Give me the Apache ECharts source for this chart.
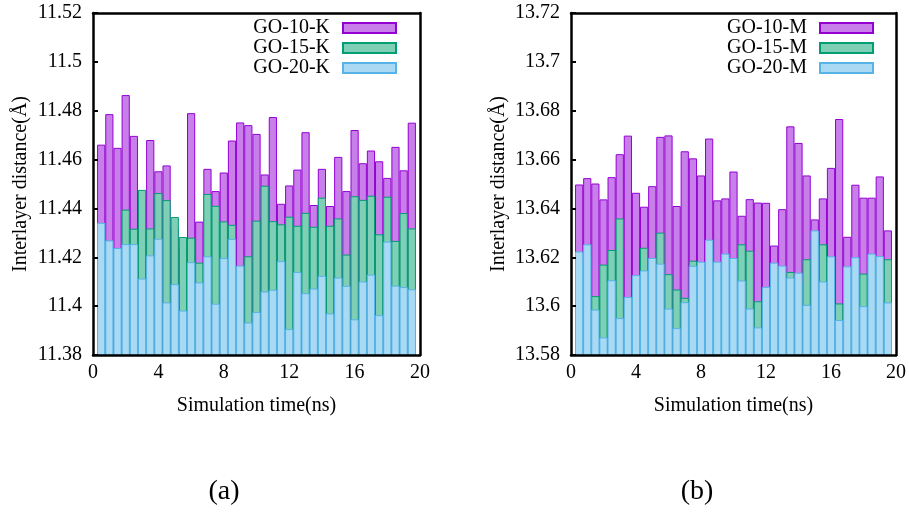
<!DOCTYPE html>
<html>
<head>
<meta charset="utf-8">
<script src="https://cdn.jsdelivr.net/npm/echarts@6/dist/echarts.min.js"></script>
<style>html,body{margin:0;padding:0;background:#fff;}#c{width:909px;height:516px;}</style>
</head>
<body>
<div id="c"></div>
<script>
// Simulation time (ns) of each bar
const times = [0.5,1.0,1.5,2.0,2.5,3.0,3.5,4.0,4.5,5.0,5.5,6.0,6.5,7.0,7.5,8.0,8.5,9.0,9.5,10.0,
  10.5,11.0,11.5,12.0,12.5,13.0,13.5,14.0,14.5,15.0,15.5,16.0,16.5,17.0,17.5,18.0,18.5,19.0,19.5];

// Panel (a)
const go10K = [11.4661,11.4786,11.4648,11.4864,11.4697,11.4440,11.4680,11.4552,11.4576,11.4320,
  11.4240,11.4790,11.4346,11.4562,11.4471,11.4547,11.4678,11.4752,11.4741,11.4705,
  11.4539,11.4774,11.4419,11.4494,11.4559,11.4712,11.4414,11.4562,11.4410,11.4611,
  11.4471,11.4721,11.4585,11.4637,11.4593,11.4525,11.4652,11.4556,11.4751];
const go15K = [11.4300,11.4220,11.4200,11.4395,11.4317,11.4476,11.4318,11.4463,11.4434,11.4365,
  11.4283,11.4280,11.4178,11.4459,11.4411,11.4347,11.4333,11.4120,11.4204,11.4350,
  11.4493,11.4348,11.4335,11.4366,11.4329,11.4382,11.4325,11.4444,11.4329,11.4359,
  11.4211,11.4450,11.4435,11.4452,11.4294,11.4448,11.4267,11.4381,11.4318];
const go20K = [11.4341,11.4269,11.4238,11.4254,11.4254,11.4113,11.4208,11.4276,11.4015,11.4090,
  11.3982,11.4180,11.4097,11.4204,11.4010,11.4197,11.4275,11.4166,11.3933,11.3976,
  11.4060,11.4067,11.4184,11.3906,11.4140,11.4053,11.4072,11.4124,11.3970,11.4117,
  11.4083,11.3946,11.4101,11.4129,11.3963,11.4264,11.4084,11.4078,11.4069];

// Panel (b)
const go10M = [13.6498,13.6524,13.6502,13.6437,13.6528,13.6622,13.6698,13.6464,13.6407,13.6491,
  13.6693,13.6699,13.6410,13.6634,13.6605,13.6535,13.6686,13.6433,13.6441,13.6551,
  13.6370,13.6438,13.6424,13.6423,13.6248,13.6397,13.6736,13.6668,13.6535,13.6355,
  13.6441,13.6566,13.6766,13.6284,13.6497,13.6444,13.6444,13.6531,13.6310];
const go15M = [13.6190,13.6210,13.6041,13.6170,13.6230,13.6359,13.6000,13.6090,13.6239,13.6160,
  13.6301,13.6131,13.6068,13.6034,13.6186,13.6140,13.6230,13.6150,13.6180,13.6160,
  13.6253,13.6227,13.6020,13.6040,13.6140,13.6120,13.6140,13.6100,13.6192,13.6270,
  13.6253,13.6170,13.6011,13.6120,13.6160,13.6133,13.6180,13.6170,13.6192];
const go20M = [13.6224,13.6253,13.5986,13.5872,13.6106,13.5951,13.6038,13.6127,13.6146,13.6197,
  13.6174,13.5990,13.5910,13.6016,13.6165,13.6182,13.6272,13.6182,13.6215,13.6197,
  13.6105,13.5990,13.5913,13.6079,13.6178,13.6166,13.6117,13.6137,13.6005,13.6310,
  13.6101,13.6204,13.5943,13.6163,13.6200,13.6000,13.6215,13.6205,13.6015];

const xTicks = {min: 0, max: 20, interval: 4};
const yRangeA = {min: 11.38, max: 11.52, interval: 0.02};
const yRangeB = {min: 13.58, max: 13.72, interval: 0.02};

const FONT = 'Liberation Serif';
const colors = [
  {fill: '#c97fe9', border: '#9400d3'},
  {fill: '#7fcfb6', border: '#009e73'},
  {fill: '#aad9f3', border: '#56b4e9'}
];

function pairs(vals) { return times.map((t, i) => [t, vals[i]]); }

function barSeries(name, vals, idx, col) {
  return {
    name: name, type: 'bar', xAxisIndex: idx, yAxisIndex: idx,
    data: pairs(vals), barWidth: 8.2, barGap: '-100%', clip: true,
    itemStyle: {color: col.fill, borderColor: col.border, borderWidth: 1},
    emphasis: {disabled: true}
  };
}

const frameLine = {show: true, onZero: false, lineStyle: {color: '#000', width: 2.5}};

function bottomAxis(grid) {
  return {type: 'value', gridIndex: grid, position: 'bottom', min: xTicks.min, max: xTicks.max, interval: xTicks.interval,
    z: 10, axisLine: frameLine, axisTick: {show: false}, splitLine: {show: false},
    axisLabel: {color: '#000', fontFamily: FONT, fontSize: 20, margin: 8},
    name: 'Simulation time(ns)', nameLocation: 'middle', nameGap: 41,
    nameTextStyle: {color: '#000', fontFamily: FONT, fontSize: 20}};
}
function topAxis(grid) {
  return {type: 'value', gridIndex: grid, position: 'top', min: xTicks.min, max: xTicks.max, interval: xTicks.interval,
    z: 10, axisLine: frameLine, axisTick: {show: false}, axisLabel: {show: false}, splitLine: {show: false}};
}
function leftAxis(grid, r) {
  return {type: 'value', gridIndex: grid, position: 'left', min: r.min, max: r.max, interval: r.interval,
    z: 10, axisLine: frameLine, splitLine: {show: false},
    axisTick: {show: true, inside: true, length: 5, lineStyle: {color: '#000', width: 2}},
    axisLabel: {color: '#000', fontFamily: FONT, fontSize: 20, margin: 11},
    name: 'Interlayer distance(Å)', nameLocation: 'middle', nameGap: 62, nameRotate: 90,
    nameTextStyle: {color: '#000', fontFamily: FONT, fontSize: 20}};
}
function rightAxis(grid, r) {
  return {type: 'value', gridIndex: grid, position: 'right', min: r.min, max: r.max, interval: r.interval,
    z: 10, axisLine: frameLine, axisTick: {show: false}, axisLabel: {show: false}, splitLine: {show: false}};
}

function legend(names, right) {
  return {
    data: names, orient: 'vertical', align: 'right', right: right, top: 18, padding: 0,
    itemWidth: 53, itemHeight: 10, itemGap: 0, icon: 'rect', selectedMode: false,
    textStyle: {color: '#000', fontFamily: FONT, fontSize: 20, lineHeight: 20, padding: [0, 8, 0, 0]}
  };
}

const chart = echarts.init(document.getElementById('c'), null, {renderer: 'canvas'});
const series = [
  barSeries('GO-10-K', go10K, 0, colors[0]),
  barSeries('GO-15-K', go15K, 0, colors[1]),
  barSeries('GO-20-K', go20K, 0, colors[2]),
  barSeries('GO-10-M', go10M, 2, colors[0]),
  barSeries('GO-15-M', go15M, 2, colors[1]),
  barSeries('GO-20-M', go20M, 2, colors[2])
];
chart.setOption({
  animation: false,
  backgroundColor: '#fff',
  grid: [
    {left: 93, right: 489, top: 13, bottom: 161},
    {left: 571, right: 12, top: 13, bottom: 161}
  ],
  xAxis: [bottomAxis(0), topAxis(0), bottomAxis(1), topAxis(1)],
  yAxis: [leftAxis(0, yRangeA), rightAxis(0, yRangeA), leftAxis(1, yRangeB), rightAxis(1, yRangeB)],
  legend: [legend(['GO-10-K', 'GO-15-K', 'GO-20-K'], 512), legend(['GO-10-M', 'GO-15-M', 'GO-20-M'], 35)],
  series: series,
  graphic: [
    {type: 'text', x: 224, y: 492, style: {text: '(a)', fill: '#000', font: '28px "Liberation Serif"', textAlign: 'center', textVerticalAlign: 'middle'}},
    {type: 'text', x: 697, y: 492, style: {text: '(b)', fill: '#000', font: '28px "Liberation Serif"', textAlign: 'center', textVerticalAlign: 'middle'}}
  ]
});
</script>
</body>
</html>
